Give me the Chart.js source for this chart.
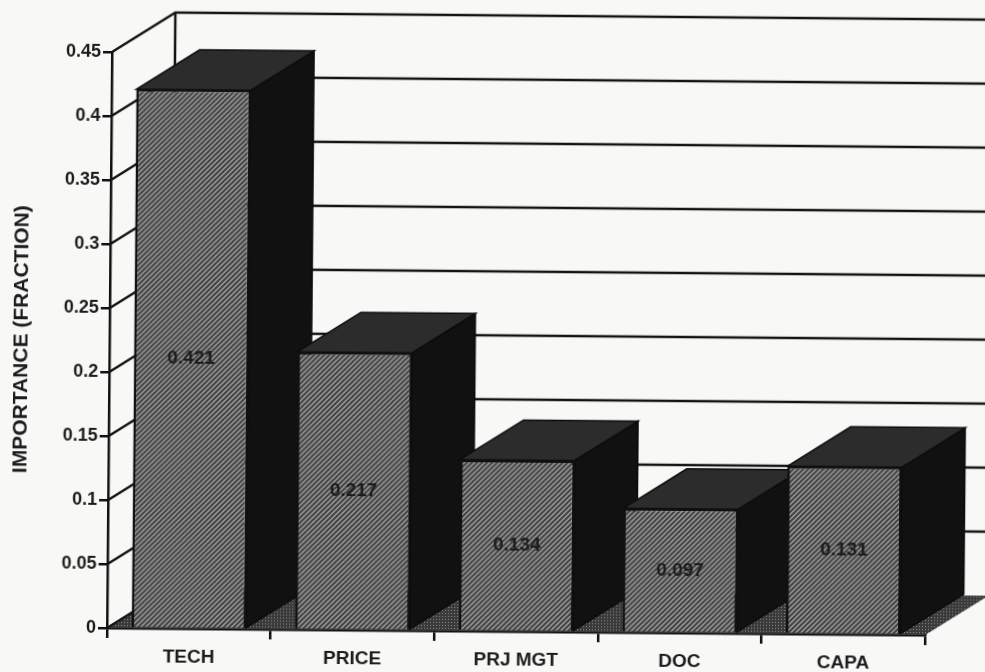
<!DOCTYPE html>
<html>
<head>
<meta charset="utf-8">
<script src="https://cdn.jsdelivr.net/npm/chart.js@4"></script>
<style>
    html, body { margin: 0; padding: 0; width: 985px; height: 672px; overflow: hidden; background: #f8f8f7; }
    #wrap { position: absolute; left: 0; top: 0; width: 985px; height: 672px; transform-origin: 107px 628px; transform: rotate(0.5deg); filter: blur(0.45px); }
</style>
</head>
<body>
<div id="wrap"><canvas id="chart" width="985" height="672"></canvas></div>
<script>
// Values
const categories = ['TECH', 'PRICE', 'PRJ MGT', 'DOC', 'CAPA'];
const importance = [0.421, 0.217, 0.134, 0.097, 0.131];
const axisTitle = 'IMPORTANCE (FRACTION)';

// How far the back wall sits from the front of the chart
const depthX = 63;
const depthY = -40;
const fontName = '"Liberation Sans", Arial, sans-serif';

// Diagonal hatch used on the bar fronts
function makeHatch() {
    const c = document.createElement('canvas');
    c.width = c.height = 5;
    const g = c.getContext('2d');
    g.fillStyle = '#9a9a9a';
    g.fillRect(0, 0, 5, 5);
    g.strokeStyle = '#444444';
    g.lineWidth = 2;
    g.beginPath();
    g.moveTo(-1, 6); g.lineTo(6, -1);
    g.moveTo(-1, 1); g.lineTo(1, -1);
    g.moveTo(4, 6); g.lineTo(6, 4);
    g.stroke();
    return c;
}

// Dotted fill for the floor
function makeDots() {
    const c = document.createElement('canvas');
    c.width = c.height = 3;
    const g = c.getContext('2d');
    g.fillStyle = '#3a3a3a';
    g.fillRect(0, 0, 3, 3);
    g.fillStyle = '#8a8a8a';
    g.fillRect(1, 1, 1, 1);
    return c;
}

function poly(ctx, pts, fill, stroke) {
    ctx.beginPath();
    pts.forEach((p, i) => i ? ctx.lineTo(p[0], p[1]) : ctx.moveTo(p[0], p[1]));
    ctx.closePath();
    if (fill) { ctx.fillStyle = fill; ctx.fill(); }
    if (stroke) { ctx.strokeStyle = stroke; ctx.lineWidth = 1.5; ctx.stroke(); }
}

// Back wall, floor and the top and side faces of the bars
const box3d = {
    id: 'box3d',
    beforeDatasetsDraw(chart) {
        const ctx = chart.ctx;
        const area = chart.chartArea;
        const y = chart.scales.y;
        ctx.save();

        const dots = ctx.createPattern(makeDots(), 'repeat');
        poly(ctx, [
            [area.left, area.bottom],
            [area.left + depthX, area.bottom + depthY],
            [area.right + depthX, area.bottom + depthY],
            [area.right, area.bottom]
        ], dots, null);

        ctx.strokeStyle = '#141414';
        ctx.lineWidth = 2.5;
        y.ticks.forEach(t => {
            const py = y.getPixelForValue(t.value);
            ctx.beginPath();
            ctx.moveTo(area.left, py);
            ctx.lineTo(area.left + depthX, py + depthY);
            if (t.value > 0) ctx.lineTo(area.right + depthX, py + depthY);
            ctx.stroke();
        });
        ctx.beginPath();
        ctx.moveTo(area.left + depthX, area.top + depthY);
        ctx.lineTo(area.left + depthX, area.bottom + depthY);
        ctx.stroke();

        chart.getDatasetMeta(0).data.forEach(bar => {
            const l = bar.x - bar.width / 2;
            const r = bar.x + bar.width / 2;
            poly(ctx, [
                [r, bar.y], [r + depthX, bar.y + depthY],
                [r + depthX, bar.base + depthY], [r, bar.base]
            ], '#111111', '#0c0c0c');
            poly(ctx, [
                [l, bar.y], [l + depthX, bar.y + depthY],
                [r + depthX, bar.y + depthY], [r, bar.y]
            ], '#2c2c2c', '#0c0c0c');
        });
        ctx.restore();
    },
    afterDatasetsDraw(chart) {
        const ctx = chart.ctx;
        ctx.save();
        ctx.font = 'bold 19px ' + fontName;
        ctx.fillStyle = '#1c1c1c';
        ctx.textAlign = 'center';
        ctx.textBaseline = 'middle';
        chart.getDatasetMeta(0).data.forEach((bar, i) => {
            ctx.fillText(importance[i].toFixed(3), bar.x, (bar.y + bar.base) / 2);
        });
        ctx.restore();
    }
};

function createChart() {
    const ctx = document.getElementById('chart').getContext('2d');
    new Chart(ctx, {
        type: 'bar',
        data: {
            labels: categories,
            datasets: [{
                data: importance,
                backgroundColor: ctx.createPattern(makeHatch(), 'repeat'),
                borderColor: '#111111',
                borderWidth: 2.5,
                barPercentage: 0.7,
                categoryPercentage: 1
            }]
        },
        plugins: [box3d],
        options: {
            responsive: false,
            animation: false,
            layout: { padding: { top: 52, right: 60, left: 0, bottom: 0 } },
            plugins: { legend: { display: false }, tooltip: { enabled: false } },
            scales: {
                x: {
                    afterFit: s => { s.height = 44; },
                    border: { color: '#111111', width: 2.5 },
                    grid: { drawOnChartArea: false, color: '#111111', lineWidth: 2.5, tickLength: 10 },
                    ticks: { color: '#1c1c1c', padding: 7, maxRotation: 0, font: { family: fontName, size: 19, weight: 'bold' } }
                },
                y: {
                    min: 0,
                    max: 0.45,
                    afterFit: s => { s.width = 107; },
                    border: { color: '#111111', width: 2.5 },
                    grid: { drawOnChartArea: false, color: '#111111', lineWidth: 2.5, tickLength: 9 },
                    ticks: {
                        stepSize: 0.05,
                        color: '#1c1c1c',
                        padding: 2,
                        font: { family: fontName, size: 18, weight: 'bold' },
                        callback: v => String(+v.toFixed(2))
                    },
                    title: {
                        display: true,
                        text: axisTitle,
                        color: '#1c1c1c',
                        padding: { top: 7, bottom: 0 },
                        font: { family: fontName, size: 21, weight: 'bold' }
                    }
                }
            }
        }
    });
}

window.onload = createChart;
</script>
</body>
</html>
